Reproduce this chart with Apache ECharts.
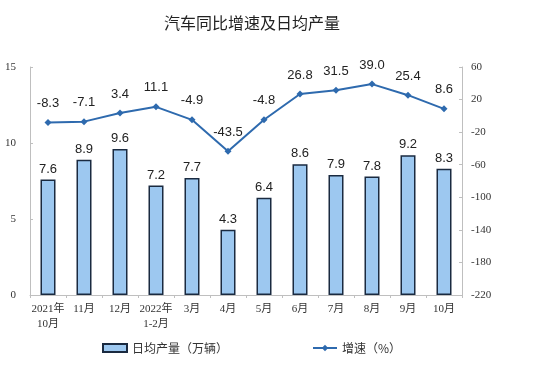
<!DOCTYPE html>
<html><head><meta charset="utf-8">
<script src="https://cdn.jsdelivr.net/npm/echarts@6/dist/echarts.min.js"></script>
<style>html,body{margin:0;padding:0;background:#fff}#c{width:550px;height:369px}</style>
</head><body><div id="c"></div>
<script>
const categories = ['2021年\n10月','11月','12月','2022年\n1-2月','3月','4月','5月','6月','7月','8月','9月','10月'];
const dailyOutput = [7.6, 8.9, 9.6, 7.2, 7.7, 4.3, 6.4, 8.6, 7.9, 7.8, 9.2, 8.3];
const growthRate = [-8.3, -7.1, 3.4, 11.1, -4.9, -43.5, -4.8, 26.8, 31.5, 39.0, 25.4, 8.6];
const leftTicks = [0, 5, 10, 15];
const rightTicks = [-220, -180, -140, -100, -60, -20, 20, 60];

const chart = echarts.init(document.getElementById('c'));
const serif = "'Liberation Serif','Noto Sans CJK SC',serif";
const sans = "'Noto Sans CJK SC','Noto Sans',sans-serif";
chart.setOption({
  animation: false,
  backgroundColor: '#fff',
  title: {
    text: '汽车同比增速及日均产量', left: 247, top: 10, textAlign: 'center',
    textStyle: {fontFamily: sans, fontSize: 16, fontWeight: 'normal', color: '#222'}
  },
  legend: {
    left: 97, top: 337, itemGap: 84, itemWidth: 24, itemHeight: 8,
    textStyle: {fontFamily: sans, fontSize: 12, color: '#333'},
    data: [
      {name: '日均产量（万辆）', icon: 'rect'},
      {name: '增速（%）'}
    ]
  },
  grid: {left: 30, right: 88, top: 67, bottom: 74},
  xAxis: {
    type: 'category', data: categories,
    axisLine: {lineStyle: {color: '#bfbfbf'}},
    axisTick: {show: true, length: 3, lineStyle: {color: '#bfbfbf'}},
    axisLabel: {fontFamily: serif, fontSize: 11, color: '#333', margin: 7, lineHeight: 15, interval: 0}
  },
  yAxis: [
    {
      type: 'value', min: 0, max: 15, interval: 5,
      splitLine: {show: false},
      axisLine: {show: true, lineStyle: {color: '#bfbfbf'}},
      axisTick: {show: true, inside: true, length: 3, lineStyle: {color: '#bfbfbf'}},
      axisLabel: {fontFamily: serif, fontSize: 11, color: '#333', margin: 14,
        customValues: leftTicks}
    },
    {
      type: 'value', min: -220, max: 60, position: 'right',
      splitLine: {show: false},
      axisLine: {show: true, lineStyle: {color: '#bfbfbf'}},
      axisTick: {show: true, inside: true, length: 3, lineStyle: {color: '#bfbfbf'}, customValues: rightTicks},
      axisLabel: {fontFamily: serif, fontSize: 11, color: '#333', margin: 9, customValues: rightTicks}
    }
  ],
  series: [
    {
      name: '日均产量（万辆）', type: 'bar', yAxisIndex: 0, data: dailyOutput,
      barWidth: 15,
      itemStyle: {color: '#9DC8F0', borderColor: '#1a2a40', borderWidth: 1.5},
      label: {show: true, position: 'top', distance: 4, fontFamily: "'Liberation Sans',sans-serif", fontSize: 13, color: '#222',
        formatter: p => p.value.toFixed(1)}
    },
    {
      name: '增速（%）', type: 'line', yAxisIndex: 1, data: growthRate,
      symbol: 'diamond', symbolSize: 7,
      lineStyle: {color: '#2E6AAE', width: 2},
      itemStyle: {color: '#2E6AAE'},
      label: {show: true, position: 'top', distance: 9, fontFamily: "'Liberation Sans',sans-serif", fontSize: 13, color: '#222',
        formatter: p => p.value.toFixed(1)}
    }
  ]
});
</script></body></html>
